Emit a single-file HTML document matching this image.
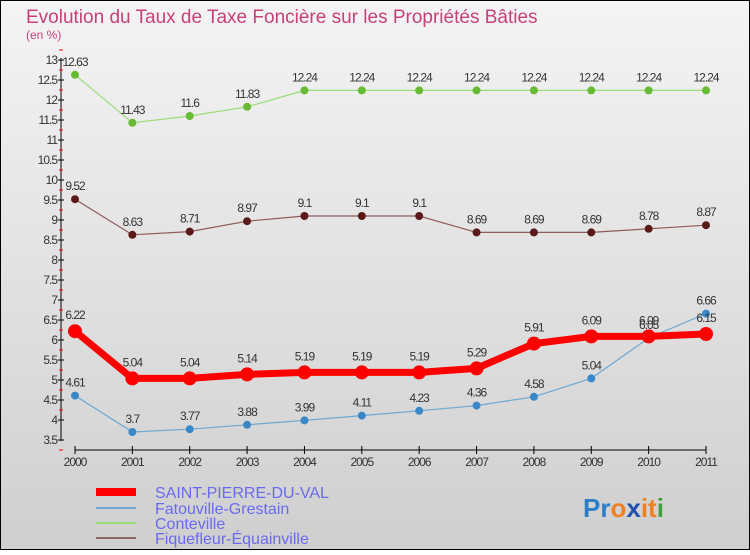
<!DOCTYPE html>
<html><head><meta charset="utf-8"><style>
body{margin:0;width:750px;height:550px;overflow:hidden;font-family:"Liberation Sans",sans-serif}
</style></head><body>
<svg id="c" width="750" height="550" xmlns="http://www.w3.org/2000/svg">
<defs><linearGradient id="bg" x1="0" y1="0" x2="0" y2="1"><stop offset="0" stop-color="#f4f4f4"/><stop offset="1" stop-color="#cfcfcf"/></linearGradient></defs>
<rect x="0.5" y="0.5" width="749" height="549" fill="url(#bg)" stroke="#000"/>
<text x="26" y="23" font-size="19" fill="#c8407a">Evolution du Taux de Taxe Foncière sur les Propriétés Bâties</text>
<text x="26" y="39" font-size="12" fill="#c8407a">(en %)</text>
<g id="axes"></g><g id="series"></g>
<g>
<rect x="96" y="488" width="40" height="8" fill="#f00"/>
<text x="155" y="498" font-size="16" fill="#6a6af0">SAINT-PIERRE-DU-VAL</text>
<rect x="96" y="507" width="40" height="2" fill="#6fa8d0"/>
<text x="155" y="514" font-size="16" fill="#6a6af0">Fatouville-Grestain</text>
<rect x="96" y="522" width="40" height="2" fill="#99dd77"/>
<text x="155" y="529" font-size="16" fill="#6a6af0">Conteville</text>
<rect x="96" y="537" width="40" height="2" fill="#8f6464"/>
<text x="155" y="544" font-size="16" fill="#6a6af0">Fiquefleur-Équainville</text>
</g>
<g font-size="26" font-weight="bold">
<text x="583" y="517"><tspan fill="#2a7fc8">Pr</tspan><tspan fill="#f08020">o</tspan><tspan fill="#2050b0">x</tspan><tspan fill="#f08020">it</tspan><tspan fill="#40a040">i</tspan></text>
</g>
</svg>
<script>
const years=["2000","2001","2002","2003","2004","2005","2006","2007","2008","2009","2010","2011"];
const saint=[6.22,5.04,5.04,5.14,5.19,5.19,5.19,5.29,5.91,6.09,6.09,6.15];
const fatou=[4.61,3.7,3.77,3.88,3.99,4.11,4.23,4.36,4.58,5.04,6.05,6.66];
const conte=[12.63,11.43,11.6,11.83,12.24,12.24,12.24,12.24,12.24,12.24,12.24,12.24];
const fique=[9.52,8.63,8.71,8.97,9.1,9.1,9.1,8.69,8.69,8.69,8.78,8.87];
const yTicks=[3.5,4,4.5,5,5.5,6,6.5,7,7.5,8,8.5,9,9.5,10,10.5,11,11.5,12,12.5,13];
const NS="http://www.w3.org/2000/svg";
const X=i=>75+i*(706-75)/11, Y=v=>60+(13-v)*40;
function mk(t,a,p){const e=document.createElementNS(NS,t);for(const k in a)e.setAttribute(k,a[k]);p.appendChild(e);return e;}
const ax=document.getElementById('axes');
let l=mk('line',{x1:61,y1:58,x2:61,y2:441,stroke:'#000'},ax);


yTicks.forEach(v=>{
 let t=mk('line',{x1:58,x2:64,y1:Y(v),y2:Y(v),stroke:'#000'},ax);
 
 
 let m=mk('line',{x1:59,x2:63,y1:Y(v)+10,y2:Y(v)+10,stroke:'#f00'},ax);
 if(v!==3.5){m.setAttribute('y1',Y(v)-10);m.setAttribute('y2',Y(v)-10);}
 
 
 let tx=mk('text',{x:57,y:Y(v)+4,'text-anchor':'end','font-size':12,fill:'#333','letter-spacing':'-1'},ax);
 tx.textContent=v;
 
 
});
let xa=mk('line',{x1:X(0),y1:450,x2:X(11),y2:450,stroke:'#000'},ax);


years.forEach((y,i)=>{
 let t=mk('line',{x1:X(i),x2:X(i),y1:446,y2:454,stroke:'#000'},ax);
 
 
 let tx=mk('text',{x:X(i),y:466,'text-anchor':'middle','font-size':12,fill:'#333','letter-spacing':'-1'},ax);
 tx.textContent=y;
 
 
});
const sg=document.getElementById('series');
function series(name,d,color,dot,w,r){
 const g=mk('g',{},sg);
 
 
 const p=mk('polyline',{points:d.map((v,i)=>X(i)+','+Y(v)).join(' '),fill:'none',stroke:color,'stroke-width':w},g);
 
 
 d.forEach((v,i)=>{
  const c=mk('circle',{cx:X(i),cy:Y(v),r:r,fill:dot},g);
  
  
  const t=mk('text',{x:X(i),y:Y(v)-r-5,'text-anchor':'middle','font-size':12,fill:'#333','letter-spacing':'-1'},g);
  t.textContent=v;
  
  
 });
}
series('conteville',conte,'#99dd77','#66bb33',1.2,4);
series('fiquefleur',fique,'#8f5a5a','#5a1a1a',1.2,4);
series('fatouville',fatou,'#6fa8d0','#3a88c8',1.2,4);
series('saint-pierre',saint,'#f00','#f00',7,7);
</script>
</body></html>
